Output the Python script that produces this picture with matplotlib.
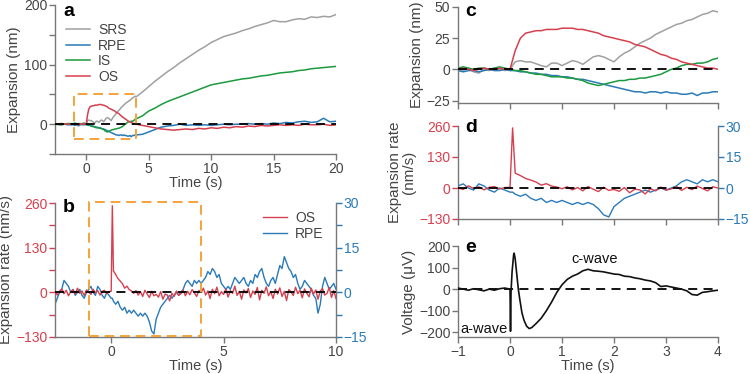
import numpy as np
import matplotlib
matplotlib.use('Agg')
import matplotlib.pyplot as plt
from matplotlib.patches import Rectangle
from matplotlib.ticker import MultipleLocator

plt.rcParams['font.family'] = ['Liberation Sans', 'DejaVu Sans']
plt.rcParams['axes.unicode_minus'] = True

# expansion traces (panels a and c), nm
t_exp = np.round(np.r_[[-2.5, -2.0, -1.5], np.arange(-1.0, 4.01, 0.1), np.arange(4.5, 20.01, 0.5)], 2)

srs = [0, -1, 1,
       0, -1, 1, -2, -3, 0, -1, 1, 0, -1,
       0,
       6, 7, 6, 6, 4.5, 3, 2, 5, 5, 3,
       5, 7, 6, 4, 7, 10, 11, 10, 8, 6,
       10, 13, 15, 18, 21, 23, 25, 28, 30, 32,
       34, 36, 37, 39, 40, 42, 44, 45, 47, 46,
       54, 63, 72, 80, 88, 95, 103, 110, 117, 124, 130, 137, 142, 147, 150, 153,
       157, 160, 164, 167, 170, 174, 172, 172, 175, 177, 176, 180, 179, 181, 180, 184]

rpe = [0, 1, -1,
       -1, -2, -1, -1, -2, -1, 0, -1, -1, 0,
       -1,
       -1, -2, -2, -3, -3, -4, -4, -5, -5, -6,
       -6, -7, -8, -8, -9, -10, -11, -12, -13, -14,
       -15, -16, -17, -18, -18, -19, -18, -18, -19, -18,
       -19, -19, -20, -20, -19, -21, -19, -19, -18, -18,
       -17, -13, -9, -5, -3, -2, 0, -2, -1, -2, -1, -2, -1, 0, -1, 0,
       0, 1, 0, 1, 0, 2, 1, 3, 2, 4, 5, 3, 4, 10, 4, 5]

inner = [0, -1, 1,
         1, 2, 1, 0, 1, 1, 0, 1, 2, 1,
         0,
         -1, -1, -2, -3, -4, -4, -5, -6, -6, -6,
         -7, -7, -8, -9, -11, -12, -13, -12, -11, -10,
         -9, -9, -8, -8, -7, -7, -6, -5, -4, -2,
         0, 1, 3, 4, 4, 5, 5, 6, 8, 9,
         14, 22, 27, 33, 38, 42, 46, 50, 54, 58, 62, 66, 68, 70, 72, 74,
         76, 77, 79, 81, 82, 84, 86, 87, 88, 90, 91, 93, 94, 95, 96, 97]

outer = [0, 1, 0,
         0, 1, 0, -1, 0, 1, 0, 0, 1, 0,
         0,
         15, 25, 29, 30, 31, 31, 32, 32, 32, 33,
         33, 33, 32, 32, 31, 30, 29, 27, 26, 25,
         24, 23, 22, 20, 19, 18, 16, 14, 12, 11,
         9, 8, 6, 5, 4, 3, 2, 1, 1, 0,
         -2, -4, -6, -8, -9, -10, -9, -8, -9, -7, -8, -6, -7, -5, -6, -4,
         -5, -3, -4, -2, -3, -2, -1, -2, -1, -2, 0, -1, -1, 0, -2, -1]

# expansion rate (panels b and d)
t_rate = np.round(np.r_[np.arange(-2.5, 0.01, 0.1), 0.05, np.arange(0.1, 10.01, 0.1)], 2)

os_rate = [5, -8, 3, 10, -4, 6, -10, 2, 8, -5, 12, -3, 4, -9, 7, 0, -6, 9, -2, 5, -8, 3, 6, -4, 2,
           3, 252,
           62, 52, 40, 33, 25, 12, 18, 8, 4, -3,
           5, -8, 2, -12, 6, -5, -15, 3, -10, -6,
           -14, 2, -20, -5, -8, -25, -3, -12, 4, -9,
           -4, 6, -10, 3, -7, 8, -2, -12, 5, 0,
           12, -8, 4, -18, 9, -4, 15, -10, 2, -6,
           10, -14, 5, -3, 18, -9, 3, -20, 7, -2,
           11, -15, 4, -6, 14, -22, 6, -3, 16, -10,
           2, -18, 9, -5, 13, -12, 3, -24, 8, 1,
           -9, 15, -4, 6, -16, 10, -2, -13, 12, -5,
           7, -20, 4, 11, -8, -3, 14, -15, 5, -18]

rpe_rate = [-4, -2, 0, 1, 4, 3, 2, 0, 1, -1, 0, 1, -1, -2, 0, 1, 2, 0, -1, 2, 1, -1, -2, 0, -1,
            -2, -2,
            -3, -4, -3, -5, -6, -5, -7, -6, -7, -6,
            -7, -8, -7, -8, -7, -8, -10, -13, -14, -9,
            -7, -5, -4, -3, -2, -1, -2, -1, 0, -1,
            0, 1, 3, 4, 3, 2, 4, 3, 4, 3,
            4, 5, 7, 6, 8, 7, 5, 6, 3, 2,
            1, 2, 1, 3, 5, 4, 3, 4, 5, 3,
            2, 4, 3, 6, 5, 7, 8, 5, 3, 2,
            4, 5, 3, 6, 9, 8, 12, 10, 8, 7,
            5, 6, 3, 1, 2, 4, 3, 2, 1, -1,
            -2, -7, -4, 2, 5, 3, 1, 2, 3, 1]

# ERG (panel e), uV
t_erg = [-1.0, -0.9, -0.8, -0.7, -0.6, -0.5, -0.4, -0.3, -0.2, -0.1, 0.0, 0.01, 0.02, 0.04,
         0.07, 0.08, 0.1, 0.13, 0.16, 0.19, 0.23, 0.27, 0.32, 0.37, 0.42, 0.5, 0.6, 0.7, 0.8,
         0.9, 1.0, 1.1, 1.2, 1.3, 1.4, 1.5, 1.6, 1.7, 1.8, 1.9, 2.0, 2.1, 2.2, 2.3, 2.4, 2.5,
         2.6, 2.7, 2.8, 2.9, 3.0, 3.1, 3.2, 3.3, 3.4, 3.5, 3.6, 3.7, 3.8, 3.9, 4.0]
v_erg = [5, 0, -5, 2, -3, -8, 0, -5, 2, 5, 0, -195, -10, 80,
         160, 167, 140, 70, 0, -50, -110, -145, -172, -183, -178, -160, -135, -100, -60,
         -15, 20, 45, 60, 70, 85, 92, 85, 83, 80, 75, 70, 68, 60, 58, 52, 48,
         42, 38, 30, 12, 15, 10, 5, 0, -8, -25, -28, -15, -12, -8, -5]

GRAY_SRS = '#a0a0a0'
BLUE = '#2a7ab8'
GREEN = '#1b9a3e'
RED = '#d6404e'
ORANGE = '#f5a33a'
TXT = '#444444'
SPINE = '#777777'


def px_rect(l, t, r, b):
    return [l / 750, 1 - b / 374, (r - l) / 750, (b - t) / 374]


def style(ax, right=False):
    ax.spines['top'].set_visible(False)
    if not right:
        ax.spines['right'].set_visible(False)
    for s in ax.spines.values():
        s.set_color(SPINE)
        s.set_linewidth(1.0)
    ax.tick_params(which='both', direction='out', length=4, width=1, colors=SPINE,
                   labelcolor=TXT, labelsize=10, pad=1.5)


def zero_line(ax, x0, x1):
    ax.plot([x0, x1], [0, 0], color='k', lw=1.3, dashes=(5, 3.5), zorder=4)


fig = plt.figure(figsize=(7.5, 3.74), dpi=100)

# ---- a
ax_a = fig.add_axes(px_rect(55, 5, 336, 154))
style(ax_a)
ax_a.plot(t_exp, srs, color=GRAY_SRS, lw=1.1, label='SRS')
ax_a.plot(t_exp, rpe, color=BLUE, lw=1.1, label='RPE')
ax_a.plot(t_exp, inner, color=GREEN, lw=1.1, label='IS')
ax_a.plot(t_exp, outer, color=RED, lw=1.1, label='OS')
zero_line(ax_a, -2.5, 20)
ax_a.add_patch(Rectangle((-1, -25), 5, 75, fill=False, ec=ORANGE, lw=1.4, ls=(0, (5, 3)), zorder=5))
ax_a.set_xlim(-2.5, 20)
ax_a.set_ylim(-50, 200)
ax_a.set_xticks([0, 5, 10, 15, 20])
ax_a.set_yticks([0, 100, 200])
ax_a.yaxis.set_minor_locator(MultipleLocator(50))
ax_a.set_xlabel('Time (s)', fontsize=10.5, color=TXT, labelpad=0)
ax_a.set_ylabel('Expansion (nm)', fontsize=11, color=TXT, labelpad=2)
ax_a.legend(loc='upper left', bbox_to_anchor=(0.04, 0.88), frameon=False, fontsize=10,
            handlelength=1.7, handletextpad=0.6, labelspacing=0.12, borderpad=0, borderaxespad=0,
            labelcolor=TXT)

# ---- b
ax_b = fig.add_axes(px_rect(55, 203, 336, 337))
style(ax_b)
ax_b.spines['right'].set_visible(False)
ax_b.plot(t_rate, os_rate, color=RED, lw=1.0, label='OS', zorder=3)
ax_b.set_xlim(-2.5, 10)
ax_b.set_ylim(-130, 260)
ax_b.set_yticks([-130, 0, 130, 260])
ax_b.yaxis.set_minor_locator(MultipleLocator(65))
ax_b.tick_params(axis='y', which='both', colors=RED, labelcolor=RED)
ax_b.set_xticks([0, 5, 10])
ax_b.set_xlabel('Time (s)', fontsize=10.5, color=TXT, labelpad=0)
ax_b.set_ylabel('Expansion rate (nm/s)', fontsize=11, color=TXT, labelpad=2)
ax_b2 = ax_b.twinx()
style(ax_b2, right=True)
ax_b2.spines['left'].set_visible(False)
ax_b2.spines['bottom'].set_visible(False)
ax_b2.plot(t_rate, rpe_rate, color=BLUE, lw=1.0, label='RPE', zorder=2)
ax_b2.set_ylim(-15, 30)
ax_b2.set_yticks([-15, 0, 15, 30])
ax_b2.yaxis.set_minor_locator(MultipleLocator(7.5))
ax_b2.tick_params(axis='y', which='both', colors=BLUE, labelcolor=BLUE)
ax_b.set_zorder(ax_b2.get_zorder() + 1)
ax_b.patch.set_visible(False)
zero_line(ax_b, -2.5, 10)
ax_b.add_patch(Rectangle((-1, -127), 5, 389, fill=False, ec=ORANGE, lw=1.4, ls=(0, (5, 3)),
                         zorder=5, clip_on=False))
h1, l1 = ax_b.get_legend_handles_labels()
h2, l2 = ax_b2.get_legend_handles_labels()
ax_b.legend(h1 + h2, l1 + l2, loc='upper left', bbox_to_anchor=(0.74, 0.94), frameon=False,
            fontsize=10, handlelength=1.7, handletextpad=0.6, labelspacing=0.12, borderpad=0,
            borderaxespad=0, labelcolor=TXT)

# ---- c
ax_c = fig.add_axes(px_rect(458, 7, 718, 103))
style(ax_c)
ax_c.plot(t_exp, srs, color=GRAY_SRS, lw=1.1)
ax_c.plot(t_exp, rpe, color=BLUE, lw=1.1)
ax_c.plot(t_exp, inner, color=GREEN, lw=1.1)
ax_c.plot(t_exp, outer, color=RED, lw=1.1)
zero_line(ax_c, -1, 4)
ax_c.set_xlim(-1, 4)
ax_c.set_ylim(-27, 50)
ax_c.set_yticks([-25, 0, 25, 50])
ax_c.set_xticks(range(-1, 5))
ax_c.set_xticklabels([])
ax_c.set_ylabel('Expansion (nm)', fontsize=11, color=TXT, labelpad=2)

# ---- d
ax_d = fig.add_axes(px_rect(458, 126, 718, 219))
style(ax_d)
ax_d.plot(t_rate, os_rate, color=RED, lw=1.0, zorder=3)
ax_d.set_xlim(-1, 4)
ax_d.set_ylim(-130, 260)
ax_d.set_yticks([-130, 0, 130, 260])
ax_d.tick_params(axis='y', colors=RED, labelcolor=RED)
ax_d.set_xticks(range(-1, 5))
ax_d.set_xticklabels([])
ax_d.set_ylabel('Expansion rate\n(nm/s)', fontsize=11, color=TXT, labelpad=2, linespacing=1.0)
ax_d2 = ax_d.twinx()
style(ax_d2, right=True)
ax_d2.spines['left'].set_visible(False)
ax_d2.spines['bottom'].set_visible(False)
ax_d2.plot(t_rate, rpe_rate, color=BLUE, lw=1.0, zorder=2)
ax_d2.set_xlim(-1, 4)
ax_d2.set_ylim(-15, 30)
ax_d2.set_yticks([-15, 0, 15, 30])
ax_d2.tick_params(axis='y', colors=BLUE, labelcolor=BLUE)
ax_d.set_zorder(ax_d2.get_zorder() + 1)
ax_d.patch.set_visible(False)
zero_line(ax_d, -1, 4)

# ---- e
ax_e = fig.add_axes(px_rect(458, 246, 718, 337))
style(ax_e)
zero_line(ax_e, -1, 4)
ax_e.plot(t_erg, v_erg, color='#111111', lw=1.2, zorder=5)
ax_e.set_xlim(-1, 4)
ax_e.set_ylim(-222, 200)
ax_e.set_yticks([-200, -100, 0, 100, 200])
ax_e.set_xticks(range(-1, 5))
ax_e.set_xlabel('Time (s)', fontsize=10.5, color=TXT, labelpad=0)
ax_e.set_ylabel('Voltage (\u03bcV)', fontsize=11, color=TXT, labelpad=2)
ax_e.text(-0.95, -186, 'a-wave', fontsize=10.5, color='#111111', va='center', ha='left')
ax_e.text(1.62, 140, 'c-wave', fontsize=10.5, color='#111111', va='center', ha='center')

# panel letters
for lab, x, y in [('a', 63, 12), ('b', 63, 207), ('c', 465, 12), ('d', 465, 127), ('e', 465, 247)]:
    fig.text(x / 750, 1 - y / 374, lab, fontsize=14, fontweight='bold', va='center', ha='left')

fig.savefig('out.png', dpi=100)
